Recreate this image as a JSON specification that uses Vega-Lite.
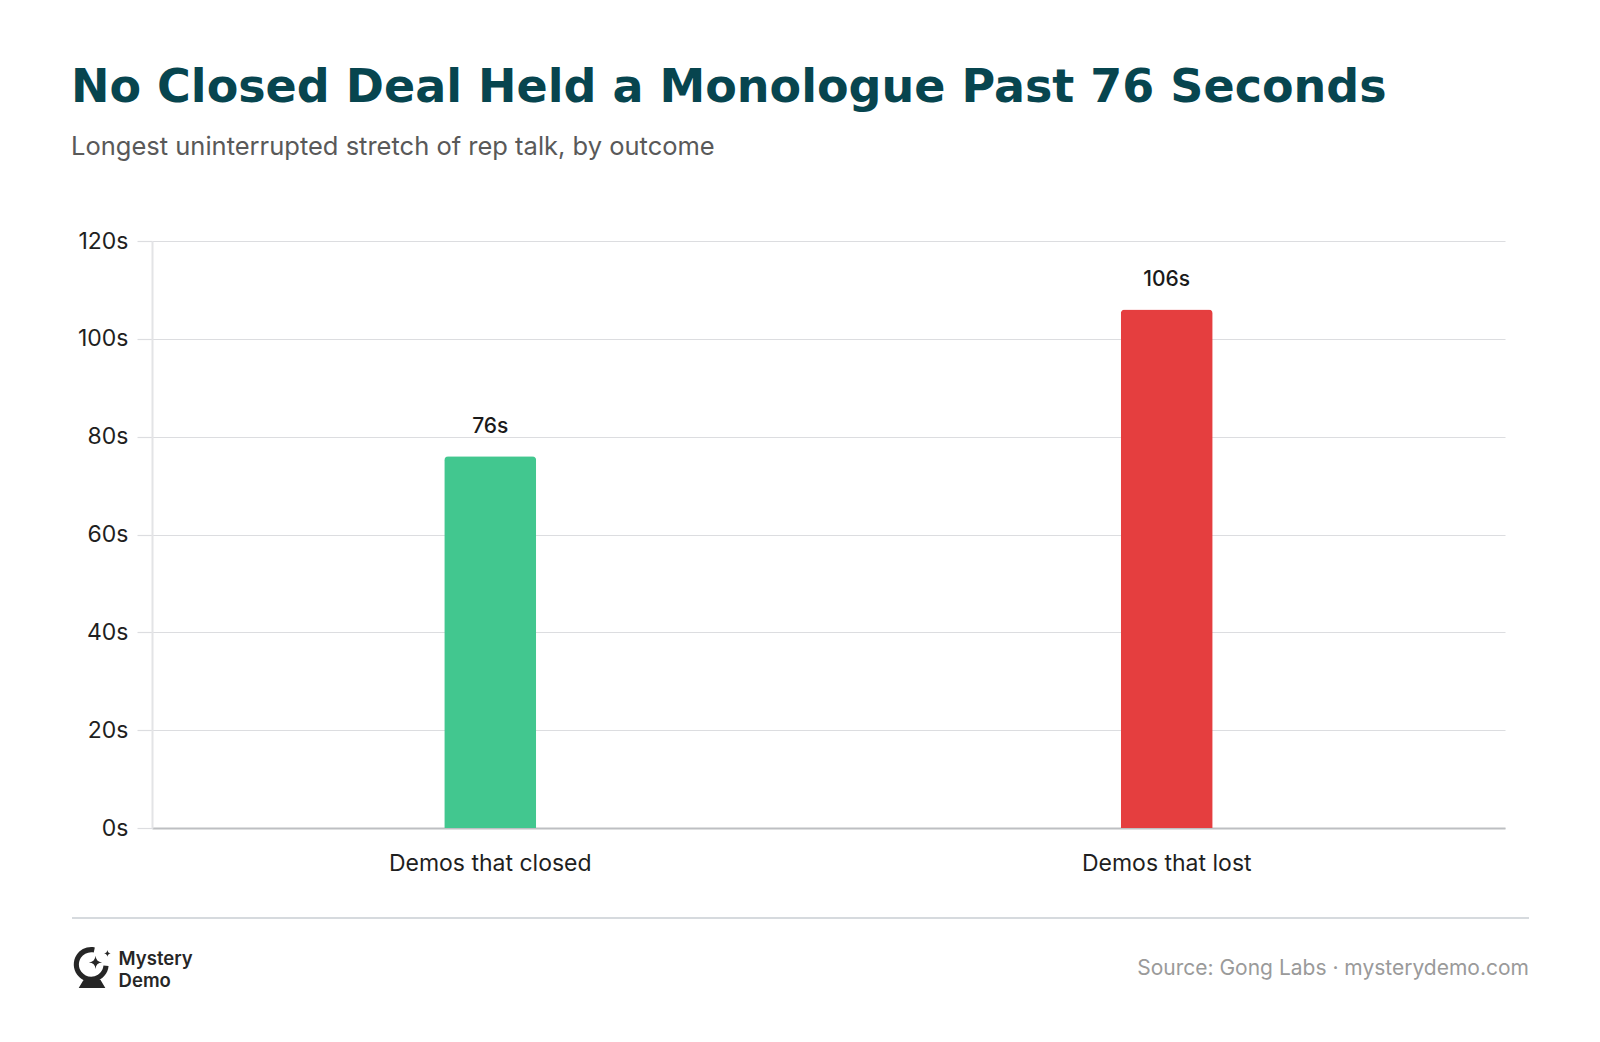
{
  "$schema": "https://vega.github.io/schema/vega-lite/v6.json",
  "background": "white",
  "autosize": {"type": "pad"},
  "padding": {"left": 71, "top": 64, "right": 72, "bottom": 20},
  "title": {
    "text": "No Closed Deal Held a Monologue Past 76 Seconds",
    "subtitle": "Longest uninterrupted stretch of rep talk, by outcome",
    "anchor": "start",
    "frame": "bounds",
    "font": "DejaVu Sans",
    "fontSize": 46,
    "fontWeight": "bold",
    "color": "#07454f",
    "subtitleFont": "Inter",
    "subtitleFontSize": 25.5,
    "subtitleColor": "#595959",
    "subtitlePadding": 23,
    "offset": 69
  },
  "spacing": 90,
  "bounds": "flush",
  "config": {
    "view": {"stroke": null},
    "font": "Inter"
  },
  "vconcat": [
    {
      "width": 1353,
      "height": 587,
      "data": {
        "values": [
          {"outcome": "Demos that closed", "seconds": 76},
          {"outcome": "Demos that lost", "seconds": 106}
        ]
      },
      "encoding": {
        "x": {
          "field": "outcome",
          "type": "nominal",
          "sort": null,
          "scale": {"paddingInner": 0, "paddingOuter": 0},
          "axis": {
            "title": null,
            "labelAngle": 0,
            "labelLimit": 0,
            "ticks": false,
            "grid": false,
            "labelPadding": 24,
            "labelFont": "Inter",
            "labelFontSize": 23,
            "labelColor": "#1f1f1f",
            "domainColor": "#bdbfc2",
            "domainWidth": 2
          }
        },
        "y": {
          "field": "seconds",
          "type": "quantitative",
          "scale": {"domain": [0, 120]},
          "axis": {
            "title": null,
            "values": [0, 20, 40, 60, 80, 100, 120],
            "labelExpr": "datum.value + 's'",
            "grid": true,
            "gridColor": "#dcdde0",
            "gridWidth": 1.2,
            "tickColor": "#dcdde0",
            "tickWidth": 1.2,
            "tickSize": 15,
            "labelPadding": 9,
            "labelFont": "Inter",
            "labelFontSize": 23,
            "labelColor": "#1f1f1f",
            "domainColor": "#e3e4e6",
            "domainWidth": 2
          }
        }
      },
      "layer": [
        {
          "mark": {
            "type": "bar",
            "width": 92,
            "cornerRadiusTopLeft": 4,
            "cornerRadiusTopRight": 4
          },
          "encoding": {
            "color": {
              "field": "outcome",
              "type": "nominal",
              "sort": null,
              "scale": {"range": ["#42c78f", "#e53e3f"]},
              "legend": null
            }
          }
        },
        {
          "mark": {
            "type": "text",
            "dy": -23,
            "baseline": "alphabetic",
            "font": "Inter",
            "fontSize": 21,
            "fontWeight": 500,
            "color": "#1a1a1a",
            "text": {"expr": "datum.seconds + 's'"}
          }
        }
      ]
    },
    {
      "width": 1353,
      "height": 80,
      "data": {"values": [{}]},
      "layer": [
        {
          "mark": {"type": "rule", "color": "#d6dade", "strokeWidth": 2},
          "encoding": {
            "x": {"datum": 0, "type": "quantitative", "scale": {"domain": [0, 1], "range": [-80, 1377]}, "axis": null},
            "x2": {"datum": 1},
            "y": {"datum": 0, "type": "quantitative", "scale": {"domain": [0, 1], "range": [0, 80]}, "axis": null}
          }
        },
        {
          "mark": {
            "type": "point",
            "shape": "M0.817,-0.076 A0.85,0.85 0 1 1 0.147,-0.981 L0.095,-0.737 A0.6,0.6 0 1 0 0.568,-0.098 Z M-0.4,0.6 L0.42,0.6 L0.66,1 L-0.64,1 Z M0.18,-0.57 Q0.2,-0.27 0.5,-0.25 Q0.2,-0.23 0.18,0.07 Q0.16,-0.23 -0.14,-0.25 Q0.16,-0.27 0.18,-0.57 Z M0.76,-0.86 Q0.78,-0.71 0.92,-0.69 Q0.78,-0.67 0.76,-0.52 Q0.74,-0.67 0.6,-0.69 Q0.74,-0.71 0.76,-0.86 Z",
            "size": 1681,
            "filled": true,
            "opacity": 1,
            "color": "#262626",
            "strokeWidth": 0
          },
          "encoding": {
            "x": {"datum": 0.0136, "type": "quantitative"},
            "y": {"datum": 0.619, "type": "quantitative"}
          }
        },
        {
          "mark": {"type": "text", "text": "Mystery", "align": "left", "baseline": "alphabetic", "font": "Inter", "fontSize": 18.5, "fontWeight": 600, "color": "#262626"},
          "encoding": {
            "x": {"datum": 0.032, "type": "quantitative"},
            "y": {"datum": 0.59, "type": "quantitative"}
          }
        },
        {
          "mark": {"type": "text", "text": "Demo", "align": "left", "baseline": "alphabetic", "font": "Inter", "fontSize": 18.5, "fontWeight": 600, "color": "#262626"},
          "encoding": {
            "x": {"datum": 0.032, "type": "quantitative"},
            "y": {"datum": 0.86, "type": "quantitative"}
          }
        },
        {
          "mark": {"type": "text", "text": "Source: Gong Labs · mysterydemo.com", "align": "right", "baseline": "alphabetic", "font": "Inter", "fontSize": 21, "color": "#9a9a9a"},
          "encoding": {
            "x": {"datum": 1, "type": "quantitative"},
            "y": {"datum": 0.7125, "type": "quantitative"}
          }
        }
      ]
    }
  ]
}
